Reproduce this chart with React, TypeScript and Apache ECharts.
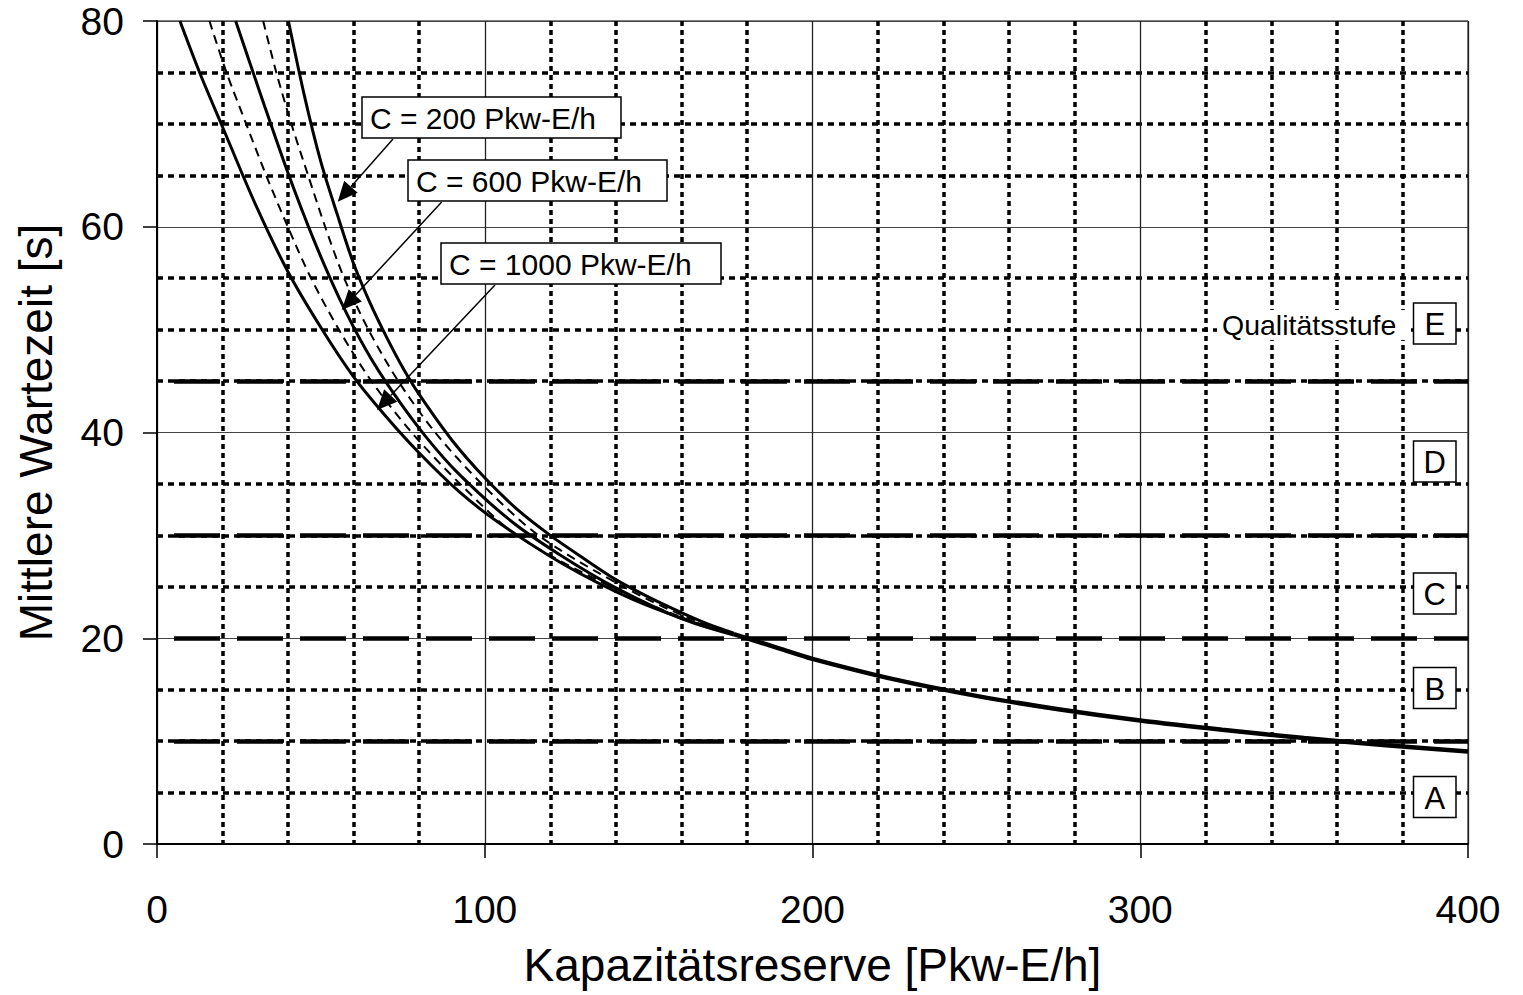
import React, { useEffect, useRef } from "react";
import * as echarts from "echarts";

// ---------- data ----------
// Solid curves for the three capacities [Kapazitätsreserve, Mittlere Wartezeit]
const curveC1000: [number, number][] = [
  [7, 80], [13, 75], [20, 69.7], [30, 62.2], [40, 55.6], [50, 50.2], [60, 45.4], [70, 41.5],
  [80, 38.0], [92, 34.3], [104, 31.3], [124, 27.2], [145, 23.8], [165, 21.4], [176, 20.4],
];
const curveC600: [number, number][] = [
  [24, 80], [32, 72.5], [40, 65.2], [48, 58.6], [56, 52.8], [64, 47.9], [72, 43.9], [82, 39.6],
  [92, 36.0], [108, 31.4], [123, 28.1], [140, 24.9], [160, 21.9], [176, 20.3],
];
const curveC200: [number, number][] = [
  [40.1, 80], [45, 72.7], [50, 66.3], [55, 61.2], [60, 56.4], [65, 52.6], [70, 49.3],
  [75, 46.3], [80, 43.7], [90, 39.25], [100, 35.6], [110, 32.5], [120, 30.0], [130, 27.8],
  [140, 25.7], [150, 24.0], [160, 22.5], [168, 21.4], [176, 20.5],
];
// thin dashed intermediate curves
const curveDashedA: [number, number][] = [
  [16, 80], [21.2, 75], [27.2, 70], [33.3, 65], [39.9, 60], [47, 55], [55.5, 50], [65.4, 45],
  [77.7, 40], [92.5, 35], [109.8, 30], [138.5, 25], [160.3, 22], [177, 20.3],
];
const curveDashedB: [number, number][] = [
  [32.4, 80], [36.4, 75], [41, 70], [46.1, 65], [51.3, 60], [57.1, 55], [64.5, 50], [73.6, 45],
  [84.9, 40], [99.1, 35], [116.4, 30], [142.3, 25], [161.9, 22], [177, 20.3],
];
// common curve where all capacities coincide
const curveCommon: [number, number][] = [
  [176, 20.4], [190, 19], [200, 18], [225, 16], [250, 14.4], [275, 13.1], [300, 12],
  [325, 11.1], [350, 10.3], [375, 9.6], [400, 9],
];
// limits of the quality levels (Qualitätsstufen)
const qualityThresholds = [10, 20, 30, 45];
const qualityLevels = ["A", "B", "C", "D", "E"];
const curveLabels = ["C = 200 Pkw-E/h", "C = 600 Pkw-E/h", "C = 1000 Pkw-E/h"];
const xAxisTitle = "Kapazitätsreserve [Pkw-E/h]";
const yAxisTitle = "Mittlere Wartezeit [s]";
const qualityTitle = "Qualitätsstufe";

// ---------- layout (pixels) ----------
const FONT = "'Liberation Sans', Arial, Helvetica, sans-serif";
const labelBoxes = [
  { x: 362, y: 97, w: 259, h: 41, from: [393, 139], to: [337.7, 201.7] },
  { x: 408, y: 160, w: 259, h: 41, from: [441.7, 202], to: [341.7, 310] },
  { x: 441, y: 243, w: 280, h: 41, from: [495, 285], to: [377, 410] },
];
const levelBoxCentersY = [797, 688, 593.5, 461.5, 323.5];

function arrow(from: number[], to: number[], len: number, wid: number) {
  const dx = to[0] - from[0];
  const dy = to[1] - from[1];
  const d = Math.sqrt(dx * dx + dy * dy);
  const ux = dx / d;
  const uy = dy / d;
  const bx = to[0] - ux * len;
  const by = to[1] - uy * len;
  const nx = -uy * (wid / 2);
  const ny = ux * (wid / 2);
  return [
    {
      type: "line",
      shape: { x1: from[0], y1: from[1], x2: bx, y2: by },
      style: { stroke: "#000", lineWidth: 1.5 },
      z: 100,
    },
    {
      type: "polygon",
      shape: { points: [[to[0], to[1]], [bx + nx, by + ny], [bx - nx, by - ny]] },
      style: { fill: "#000" },
      z: 100,
    },
  ];
}

export default function App() {
  const ref = useRef<HTMLDivElement>(null);
  useEffect(() => {
    if (!ref.current) return;
    const chart = echarts.init(ref.current, null, { renderer: "svg" });

    const graphics: any[] = [];
    labelBoxes.forEach((b, i) => {
      graphics.push({
        type: "rect",
        shape: { x: b.x, y: b.y, width: b.w, height: b.h },
        style: { fill: "#fff", stroke: "#000", lineWidth: 1.5 },
        z: 101,
      });
      graphics.push({
        type: "text",
        x: b.x + 8,
        y: b.y + b.h / 2 + 1,
        style: {
          text: curveLabels[i],
          font: `30px ${FONT}`,
          fill: "#000",
          verticalAlign: "middle",
          align: "left",
        },
        z: 102,
      });
      graphics.push(...arrow(b.from, b.to, 20, 18));
    });
    qualityLevels.forEach((lv, i) => {
      const cy = levelBoxCentersY[i];
      graphics.push({
        type: "rect",
        shape: { x: 1413.5, y: cy - 20.5, width: 42.5, height: 41 },
        style: { fill: "#fff", stroke: "#000", lineWidth: 1.5 },
        z: 101,
      });
      graphics.push({
        type: "text",
        x: 1434.75,
        y: cy + 1,
        style: {
          text: lv,
          font: `31px ${FONT}`,
          fill: "#000",
          align: "center",
          verticalAlign: "middle",
        },
        z: 102,
      });
    });
    graphics.push({
      type: "rect",
      shape: { x: 1217, y: 310, width: 190, height: 30 },
      style: { fill: "#fff" },
      z: 100,
    });
    graphics.push({
      type: "text",
      x: 1222,
      y: 325,
      style: {
        text: qualityTitle,
        font: `28.5px ${FONT}`,
        fill: "#000",
        align: "left",
        verticalAlign: "middle",
      },
      z: 102,
    });

    const solidStyle = { color: "#000", width: 3 };
    const curve = (name: string, data: [number, number][], lineStyle: any) => ({
      name,
      type: "line",
      data,
      smooth: 0.3,
      showSymbol: false,
      lineStyle,
      z: 5,
    });
    const option: any = {
      animation: false,
      backgroundColor: "#fff",
      textStyle: { fontFamily: FONT },
      grid: {
        left: 157,
        right: 55,
        top: 21,
        bottom: 151,
        show: true,
        borderColor: "#000",
        borderWidth: 1,
        backgroundColor: "transparent",
      },
      xAxis: {
        type: "value",
        min: 0,
        max: 400,
        interval: 100,
        name: xAxisTitle,
        nameLocation: "middle",
        nameGap: 98,
        nameTextStyle: { fontSize: 46, color: "#000", fontFamily: FONT },
        axisLine: { show: true, onZero: false, lineStyle: { color: "#000", width: 2 } },
        axisTick: { show: true, length: 14, lineStyle: { color: "#000", width: 1.5 } },
        axisLabel: { fontSize: 39, color: "#000", margin: 46, fontFamily: FONT },
        splitLine: { show: true, lineStyle: { color: "#222", width: 1.3 } },
        minorTick: { show: false, splitNumber: 5 },
        minorSplitLine: { show: true, lineStyle: { color: "#000", width: 3.5, type: [5, 4] } },
      },
      yAxis: {
        type: "value",
        min: 0,
        max: 80,
        interval: 20,
        name: yAxisTitle,
        nameLocation: "middle",
        nameGap: 98,
        nameTextStyle: { fontSize: 46, color: "#000", fontFamily: FONT },
        axisLine: { show: true, onZero: false, lineStyle: { color: "#000", width: 2 } },
        axisTick: { show: true, length: 14, lineStyle: { color: "#000", width: 1.5 } },
        axisLabel: { fontSize: 39, color: "#000", margin: 33, fontFamily: FONT },
        splitLine: { show: true, lineStyle: { color: "#444", width: 1.2 } },
        minorTick: { show: false, splitNumber: 4 },
        minorSplitLine: { show: true, lineStyle: { color: "#000", width: 3.5, type: [6, 5] } },
      },
      series: [
        {
          name: "Qualitätsgrenzen",
          type: "line",
          data: [],
          silent: true,
          markLine: {
            silent: true,
            symbol: "none",
            label: { show: false },
            lineStyle: { color: "#000", width: 4.5, type: [46, 17], dashOffset: 46 },
            data: qualityThresholds.map((v) => ({ yAxis: v })),
            z: 3,
          },
        },
        curve("C = 1000", curveC1000, solidStyle),
        curve("C = 600", curveC600, solidStyle),
        curve("C = 200", curveC200, solidStyle),
        curve("dashed A", curveDashedA, { color: "#000", width: 2, type: [9, 6] }),
        curve("dashed B", curveDashedB, { color: "#000", width: 2, type: [9, 6] }),
        curve("gemeinsam", curveCommon, { color: "#000", width: 4.5 }),
      ],
      graphic: graphics,
    };
    chart.setOption(option);
    return () => chart.dispose();
  }, []);
  return (
    <div
      ref={ref}
      style={{ position: "fixed", left: 0, top: 0, width: 1523, height: 995, background: "#fff" }}
    />
  );
}
